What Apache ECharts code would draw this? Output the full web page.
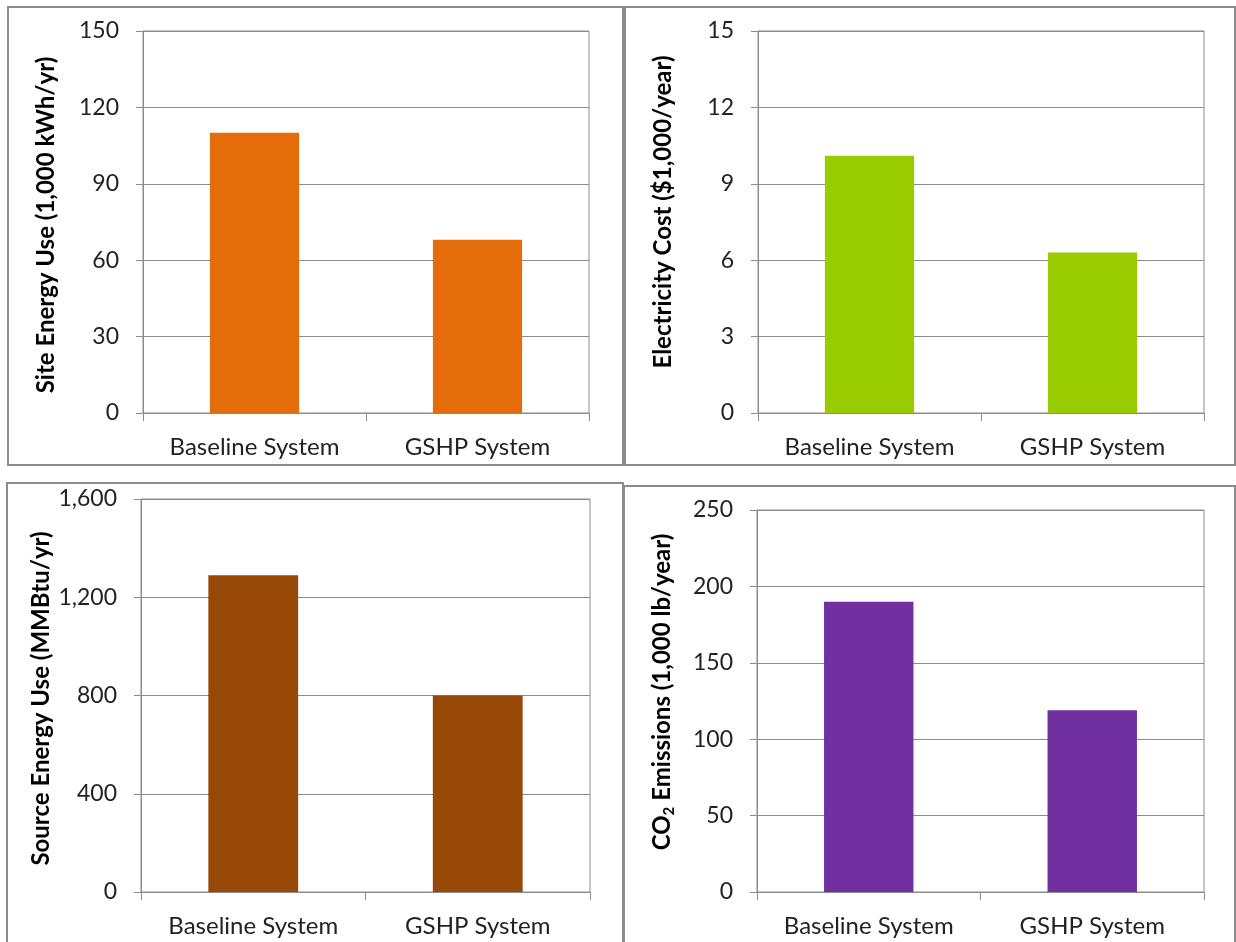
<!DOCTYPE html>
<html>
<head>
<meta charset="utf-8">
<script src="https://cdn.jsdelivr.net/npm/echarts@6/dist/echarts.min.js"></script>
<style>html,body{margin:0;padding:0;background:#fff}#c{width:1236px;height:942px}</style>
</head>
<body>
<div id="c"></div>
<script>
const categories = ['Baseline System', 'GSHP System'];
const siteEnergy = [110, 68];
const elecCost = [10.1, 6.3];
const sourceEnergy = [1290, 800];
const co2Emissions = [190, 119];
const axisMax = [150, 15, 1600, 250];
const axisStep = [30, 3, 400, 50];
const axisTitles = [
  'Site Energy Use (1,000 kWh/yr)',
  'Electricity Cost ($1,000/year)',
  'Source Energy Use (MMBtu/yr)',
  '{a|CO}{s|2}{a| Emissions (1,000 lb/year)}'
];
const seriesData = [siteEnergy, elecCost, sourceEnergy, co2Emissions];
const barColors = ['#E46C0A', '#99CC00', '#984807', '#7030A0'];

const FONT = 'Lato';
const GREY = '#8c8c8c';
const grids = [
  {left: 143, top: 31, width: 446, height: 382},
  {left: 758, top: 31, width: 446, height: 382},
  {left: 141, top: 499, width: 449, height: 393},
  {left: 757, top: 510, width: 447, height: 382}
];
const nameGaps = [85, 83, 88, 80];
const namePads = [[0,6,0,0],[0,0,0,20],[0,6,0,0],[0,0,0,18]];

const option = {
  animation: false,
  backgroundColor: '#fff',
  grid: grids.map(g => Object.assign({show: true, borderColor: GREY, borderWidth: 1, backgroundColor: 'transparent'}, g)),
  xAxis: grids.map((g, i) => ({
    type: 'category', gridIndex: i, data: categories,
    axisLine: {show: true, lineStyle: {color: GREY, width: 1}},
    axisTick: {show: true, length: 8, alignWithLabel: false, lineStyle: {color: GREY}},
    axisLabel: {fontFamily: FONT, fontSize: 24, color: '#222', margin: 22}
  })),
  yAxis: grids.map((g, i) => ({
    type: 'value', gridIndex: i, min: 0, max: axisMax[i], interval: axisStep[i],
    name: axisTitles[i], nameLocation: 'middle', nameGap: nameGaps[i], nameRotate: 90,
    nameTextStyle: {
      fontFamily: FONT, fontSize: 24, fontWeight: 'bold', color: '#000', padding: namePads[i],
      rich: {
        a: {fontFamily: FONT, fontSize: 24, fontWeight: 'bold', color: '#000'},
        s: {fontFamily: FONT, fontSize: 15, fontWeight: 'bold', color: '#000', padding: [14, 0, 0, 0]}
      }
    },
    axisLine: {show: true, lineStyle: {color: GREY, width: 1}},
    axisTick: {show: true, length: 7, lineStyle: {color: GREY}},
    splitLine: {show: true, lineStyle: {color: GREY, width: 1}},
    axisLabel: {fontFamily: FONT, fontSize: 23, color: '#222', margin: 24,
      formatter: v => v.toLocaleString('en-US')}
  })),
  series: seriesData.map((d, i) => ({
    type: 'bar', xAxisIndex: i, yAxisIndex: i, data: d, barWidth: '40%',
    itemStyle: {color: barColors[i]}
  })),
  graphic: [
    {type: 'rect', shape: {x: 8, y: 7, width: 615, height: 458}, style: {fill: 'none', stroke: GREY, lineWidth: 2}, silent: true},
    {type: 'rect', shape: {x: 625, y: 7, width: 610, height: 458}, style: {fill: 'none', stroke: GREY, lineWidth: 2}, silent: true},
    {type: 'rect', shape: {x: 7, y: 483, width: 616, height: 500}, style: {fill: 'none', stroke: GREY, lineWidth: 2}, silent: true},
    {type: 'rect', shape: {x: 624, y: 486, width: 611, height: 500}, style: {fill: 'none', stroke: GREY, lineWidth: 2}, silent: true}
  ]
};
const chart = echarts.init(document.getElementById('c'), null, {renderer: 'canvas'});
chart.setOption(option);
</script>
</body>
</html>
